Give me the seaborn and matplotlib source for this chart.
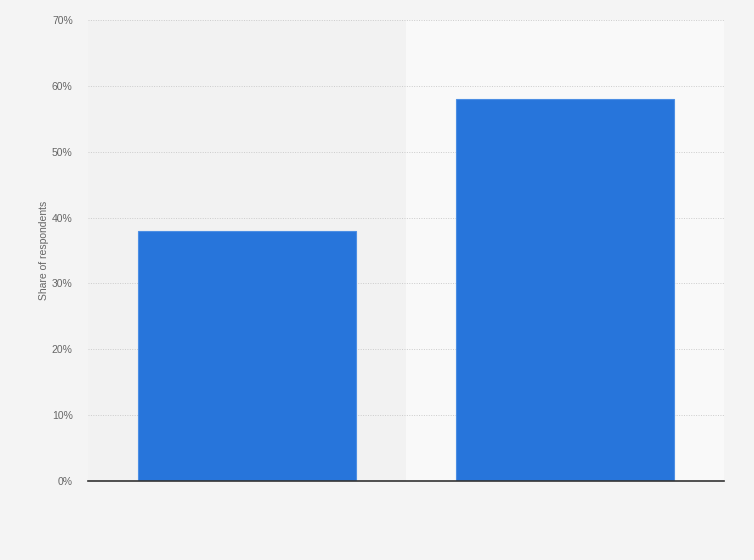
import matplotlib
matplotlib.use("Agg")
import matplotlib.pyplot as plt
import seaborn as sns
import pandas as pd
from matplotlib.ticker import FuncFormatter

# data (x labels are not shown in the chart)
categories = ["Group A", "Group B"]
shares = [38, 58]
y_ticks = [0, 10, 20, 30, 40, 50, 60, 70]

df = pd.DataFrame({"category": categories, "share": shares})

sns.set_style("white")
plt.rcParams["font.family"] = ["Liberation Sans", "DejaVu Sans"]

fig = plt.figure(figsize=(7.54, 5.6), dpi=100, facecolor="#f4f4f4")
ax = fig.add_axes([88 / 754, 79 / 560, 636 / 754, 461 / 560])
ax.set_facecolor("#f4f4f4")

# alternating column bands
ax.axvspan(-0.5, 0.5, color="#f2f2f2", zorder=0, lw=0)
ax.axvspan(0.5, 1.5, color="#f9f9f9", zorder=0, lw=0)

sns.barplot(data=df, x="category", y="share", color="#2775db",
            width=0.686, saturation=1, edgecolor="#4d8fe4", linewidth=0.8,
            ax=ax, zorder=3)

ax.set_xlim(-0.5, 1.5)
ax.set_ylim(0, 70)
ax.set_yticks(y_ticks)
ax.yaxis.set_major_formatter(FuncFormatter(lambda v, p: f"{int(v)}%"))
ax.grid(axis="y", color="#cccccc", linestyle=(0, (1, 1.5)), linewidth=0.7, zorder=1)
ax.set_axisbelow(True)

for side in ["top", "right", "left"]:
    ax.spines[side].set_visible(False)
ax.spines["bottom"].set_color("#333333")
ax.spines["bottom"].set_linewidth(1.2)
ax.spines["bottom"].set_zorder(4)

ax.set_xticks([])
ax.set_xlabel("")
ax.tick_params(axis="y", length=0, pad=11, labelsize=7.5, labelcolor="#666666")
ax.set_ylabel("Share of respondents", fontsize=7.5, color="#666666", labelpad=2)

fig.savefig("out.png", dpi=100, facecolor=fig.get_facecolor())
